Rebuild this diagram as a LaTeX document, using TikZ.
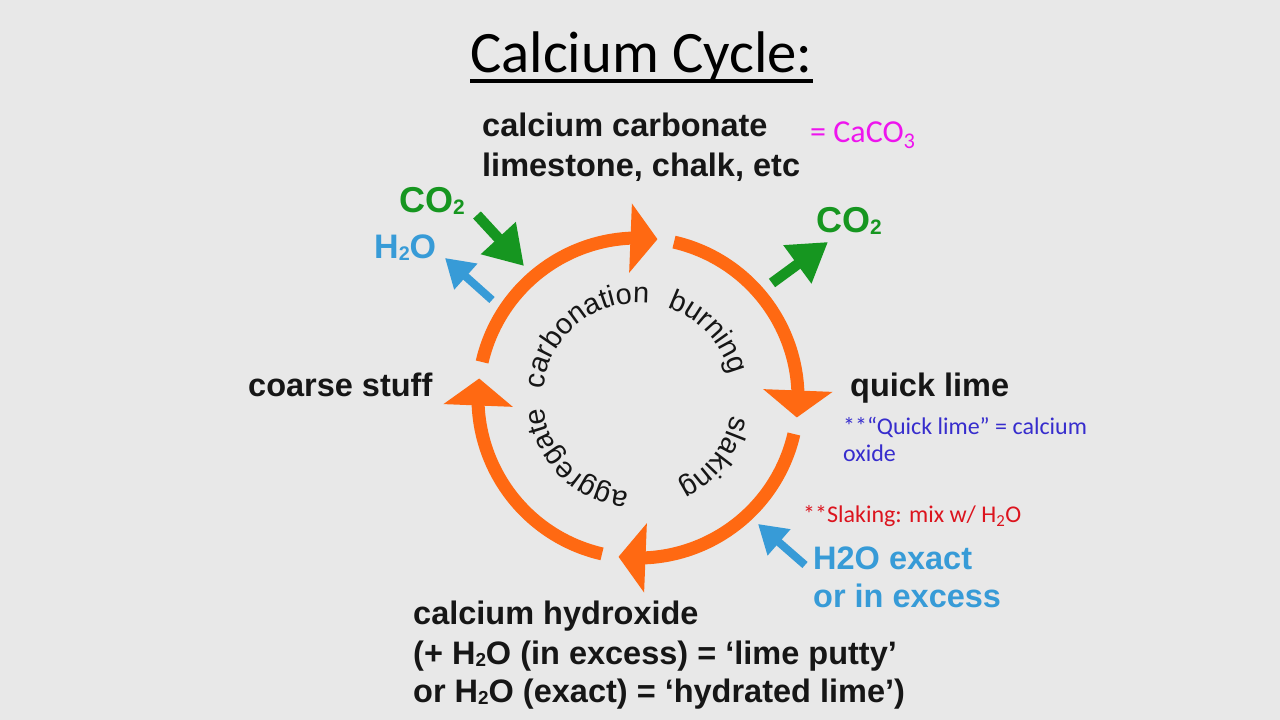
\documentclass[tikz,border=0pt]{standalone}
\usepackage{fontspec}
\setmainfont{Liberation Sans}
\newfontfamily\calfont{Carlito}
\usetikzlibrary{arrows.meta,bending,decorations.text}

\definecolor{bg}{RGB}{232,232,232}
\definecolor{ink}{RGB}{22,22,22}
\definecolor{orng}{RGB}{255,105,18}
\definecolor{grn}{RGB}{22,150,32}
\definecolor{lblue}{RGB}{55,155,215}
\definecolor{mag}{RGB}{238,20,238}
\definecolor{nblue}{RGB}{55,45,205}
\definecolor{nred}{RGB}{220,20,30}

\newcommand{\lsub}[1]{\raisebox{-0.05em}{\scalebox{0.58}{#1}}}
\newcommand{\circfont}{\fontsize{29}{29}\selectfont}

\tikzset{
  lbl/.style={inner sep=0pt, anchor=base west, text=ink,
    font=\bfseries\fontsize{32.5}{39}\selectfont},
  bigchem/.style={inner sep=0pt, anchor=base west,
    font=\bfseries\fontsize{36}{40}\selectfont},
  note/.style={inner sep=0pt, anchor=base west,
    font=\calfont\fontsize{24}{29}\selectfont},
  orarc/.style={draw=orng, line width=13pt,
    -{Triangle[length=27pt,width=68pt,color=orng]}},
  grarrow/.style={draw=grn, line width=10.5pt,
    -{Triangle[length=38pt,width=45pt,color=grn]}},
  blarrow/.style={draw=lblue, line width=8pt,
    -{Triangle[length=28pt,width=33pt,color=lblue]}},
  circtext/.style={decorate, decoration={text along path,
    text align=center}}
}

\begin{document}
\begin{tikzpicture}[x=1pt,y=1pt]
\useasboundingbox (0,0) rectangle (1280,720);
\fill[bg] (0,0) rectangle (1280,720);

% title
\node[inner sep=0pt, anchor=base west, text=black,
  font=\calfont\fontsize{58.7}{70}\selectfont] (title) at (470,647) {Calcium Cycle:};
\draw[line width=3.5pt, black] ([yshift=-8pt]title.base west) -- ([yshift=-8pt]title.base east);

% cycle centre
\coordinate (cen) at (638,322);

% orange arcs
\draw[orarc] ([shift={(167:160pt)}]cen) arc[start angle=167, end angle=83, radius=160pt];
\draw[orarc] ([shift={(77:160pt)}]cen) arc[start angle=77, end angle=-7, radius=160pt];
\draw[orarc] ([shift={(-13:160pt)}]cen) arc[start angle=-13, end angle=-97, radius=160pt];
\draw[orarc] ([shift={(-103:160pt)}]cen) arc[start angle=-103, end angle=-187, radius=160pt];

% circular texts
\path[circtext, decoration={text={|\circfont\color{ink}|carbonation}}]
  ([shift={(189:95pt)}]cen) arc[start angle=189, end angle=69, radius=95pt];
\path[circtext, decoration={text={|\circfont\color{ink}|burning}}]
  ([shift={(103:95pt)}]cen) arc[start angle=103, end angle=-17, radius=95pt];
\path[circtext, decoration={text={|\circfont\color{ink}|slaking}}]
  ([shift={(22:95pt)}]cen) arc[start angle=22, end angle=-98, radius=95pt];
\path[circtext, decoration={text={|\circfont\color{ink}|aggregate}}]
  ([shift={(285:95pt)}]cen) arc[start angle=285, end angle=165, radius=95pt];

% labels
\node[lbl] (cc1) at (482,583) {calcium carbonate};
\node[lbl] (cc2) at (482,543) {limestone, chalk, etc};
\node[note, text=mag, font=\calfont\fontsize{32}{38}\selectfont] (caco) at (810,577) {= CaCO\textsubscript{3}};
\node[lbl] (ql) at (850,323) {quick lime};
\node[lbl] (cs) at (248,323) {coarse stuff};
\node[lbl] (ch1) at (413,95) {calcium hydroxide};
\node[lbl] (ch2) at (413,55) {(+ H\lsub{2}O (in excess) = ‘lime putty’};
\node[lbl] (ch3) at (413,17) {or H\lsub{2}O (exact) = ‘hydrated lime’)};
\node[lbl, text=lblue] (hx1) at (813,150) {H2O exact};
\node[lbl, text=lblue] (hx2) at (813,112) {or in excess};

\node[bigchem, text=grn] (co2a) at (399,507) {CO\lsub{2}};
\node[bigchem, text=lblue, font=\bfseries\fontsize{34}{40}\selectfont] (h2o) at (374,461) {H\lsub{2}O};
\node[bigchem, text=grn] (co2b) at (816,487) {CO\lsub{2}};

% notes
\node[note, text=nblue] (qn1) at (843,285) {**“Quick lime” = calcium};
\node[note, text=nblue] (qn2) at (843,258) {oxide};
\node[note, text=nred] (sl) at (803,197) {**Slaking: mix w/ H\textsubscript{2}O};

% small arrows
\coordinate (g1s) at (477,505); \coordinate (g1e) at (524,454);
\coordinate (b1s) at (492,420); \coordinate (b1e) at (445,462);
\coordinate (g2s) at (772,437); \coordinate (g2e) at (828,478);
\coordinate (b2s) at (805,155); \coordinate (b2e) at (758,196);
\draw[grarrow] (g1s) -- (g1e);
\draw[blarrow] (b1s) -- (b1e);
\draw[grarrow] (g2s) -- (g2e);
\draw[blarrow] (b2s) -- (b2e);
\end{tikzpicture}
\end{document}
